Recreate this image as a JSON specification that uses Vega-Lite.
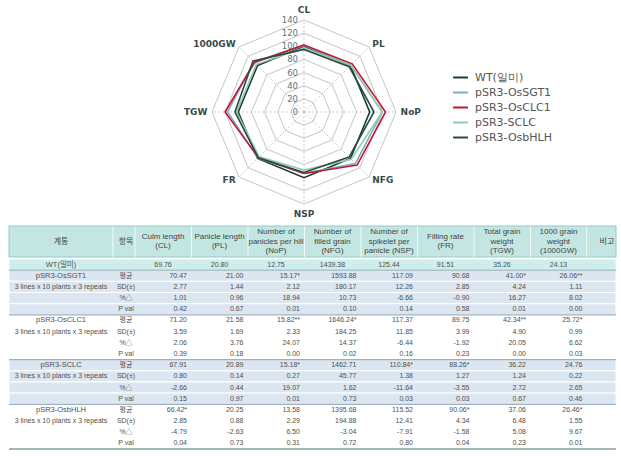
{
  "$schema": "https://vega.github.io/schema/vega-lite/v6.json",
  "padding": {"left": 8, "right": 6, "top": 0, "bottom": 0},
  "spacing": 0,
  "background": "white",
  "config": {"view": {"stroke": null}, "text": {"font": "DejaVu Sans"}},
  "datasets": {
    "traits": [
      {"t": "CL", "idx": 0, "label": "Culm length\n(CL)"},
      {"t": "PL", "idx": 1, "label": "Panicle length\n(PL)"},
      {"t": "NoP", "idx": 2, "label": "Number of\npanicles per hill\n(NoP)"},
      {"t": "NFG", "idx": 3, "label": "Number of\nfilled grain\n(NFG)"},
      {"t": "NSP", "idx": 4, "label": "Number of\nspikelet per\npanicle (NSP)"},
      {"t": "FR", "idx": 5, "label": "Filling rate\n(FR)"},
      {"t": "TGW", "idx": 6, "label": "Total grain\nweight\n(TGW)"},
      {"t": "1000GW", "idx": 7, "label": "1000 grain\nweight\n(1000GW)"}
    ],
    "levels": [
      {"level": 0, "spoke": [0, 1, 2, 3, 4, 5, 6, 7]},
      {"level": 20, "spoke": [0, 1, 2, 3, 4, 5, 6, 7]},
      {"level": 40, "spoke": [0, 1, 2, 3, 4, 5, 6, 7]},
      {"level": 60, "spoke": [0, 1, 2, 3, 4, 5, 6, 7]},
      {"level": 80, "spoke": [0, 1, 2, 3, 4, 5, 6, 7]},
      {"level": 100, "spoke": [0, 1, 2, 3, 4, 5, 6, 7]},
      {"level": 120, "spoke": [0, 1, 2, 3, 4, 5, 6, 7]},
      {"level": 140, "spoke": [0, 1, 2, 3, 4, 5, 6, 7]}
    ],
    "lines": [
      {"l": "pSR3-OsSGT1", "desc": "3 lines x 10 plants x 3 repeats"},
      {"l": "pSR3-OsCLC1", "desc": "3 lines x 10 plants x 3 repeats"},
      {"l": "pSR3-SCLC", "desc": "3 lines x 10 plants x 3 repeats"},
      {"l": "pSR3-OsbHLH", "desc": "3 lines x 10 plants x 3 repeats"}
    ],
    "stats": [
      {"stat": "m", "item": "평균"},
      {"stat": "sd", "item": "SD(±)"},
      {"stat": "pct", "item": "%△"},
      {"stat": "p", "item": "P val"}
    ],
    "cells": [
      {"l": "WT(일미)", "t": "CL", "m": 69.76},
      {"l": "WT(일미)", "t": "PL", "m": 20.80},
      {"l": "WT(일미)", "t": "NoP", "m": 12.75},
      {"l": "WT(일미)", "t": "NFG", "m": 1439.38},
      {"l": "WT(일미)", "t": "NSP", "m": 125.44},
      {"l": "WT(일미)", "t": "FR", "m": 91.51},
      {"l": "WT(일미)", "t": "TGW", "m": 35.26},
      {"l": "WT(일미)", "t": "1000GW", "m": 24.13},
      {"l": "pSR3-OsSGT1", "t": "CL", "m": 70.47, "sd": 2.77, "pct": 1.01, "p": 0.42},
      {"l": "pSR3-OsSGT1", "t": "PL", "m": 21.00, "sd": 1.44, "pct": 0.96, "p": 0.67},
      {"l": "pSR3-OsSGT1", "t": "NoP", "m": 15.17, "sig": "*", "sd": 2.12, "pct": 18.94, "p": 0.01},
      {"l": "pSR3-OsSGT1", "t": "NFG", "m": 1593.88, "sd": 180.17, "pct": 10.73, "p": 0.10},
      {"l": "pSR3-OsSGT1", "t": "NSP", "m": 117.09, "sd": 12.26, "pct": -6.66, "p": 0.14},
      {"l": "pSR3-OsSGT1", "t": "FR", "m": 90.68, "sd": 2.85, "pct": -0.90, "p": 0.58},
      {"l": "pSR3-OsSGT1", "t": "TGW", "m": 41.00, "sig": "*", "sd": 4.24, "pct": 16.27, "p": 0.01},
      {"l": "pSR3-OsSGT1", "t": "1000GW", "m": 26.06, "sig": "**", "sd": 1.11, "pct": 8.02, "p": 0.00},
      {"l": "pSR3-OsCLC1", "t": "CL", "m": 71.20, "sd": 3.59, "pct": 2.06, "p": 0.39},
      {"l": "pSR3-OsCLC1", "t": "PL", "m": 21.58, "sd": 1.69, "pct": 3.76, "p": 0.18},
      {"l": "pSR3-OsCLC1", "t": "NoP", "m": 15.82, "sig": "**", "sd": 2.33, "pct": 24.07, "p": 0.00},
      {"l": "pSR3-OsCLC1", "t": "NFG", "m": 1646.24, "sig": "*", "sd": 184.25, "pct": 14.37, "p": 0.02},
      {"l": "pSR3-OsCLC1", "t": "NSP", "m": 117.37, "sd": 11.85, "pct": -6.44, "p": 0.16},
      {"l": "pSR3-OsCLC1", "t": "FR", "m": 89.75, "sd": 3.99, "pct": -1.92, "p": 0.23},
      {"l": "pSR3-OsCLC1", "t": "TGW", "m": 42.34, "sig": "**", "sd": 4.90, "pct": 20.05, "p": 0.00},
      {"l": "pSR3-OsCLC1", "t": "1000GW", "m": 25.72, "sig": "*", "sd": 0.99, "pct": 6.62, "p": 0.03},
      {"l": "pSR3-SCLC", "t": "CL", "m": 67.91, "sd": 0.80, "pct": -2.66, "p": 0.15},
      {"l": "pSR3-SCLC", "t": "PL", "m": 20.89, "sd": 0.14, "pct": 0.44, "p": 0.97},
      {"l": "pSR3-SCLC", "t": "NoP", "m": 15.18, "sig": "*", "sd": 0.27, "pct": 19.07, "p": 0.01},
      {"l": "pSR3-SCLC", "t": "NFG", "m": 1462.71, "sd": 45.77, "pct": 1.62, "p": 0.73},
      {"l": "pSR3-SCLC", "t": "NSP", "m": 110.84, "sig": "*", "sd": 1.38, "pct": -11.64, "p": 0.03},
      {"l": "pSR3-SCLC", "t": "FR", "m": 88.26, "sig": "*", "sd": 1.27, "pct": -3.55, "p": 0.03},
      {"l": "pSR3-SCLC", "t": "TGW", "m": 36.22, "sd": 1.24, "pct": 2.72, "p": 0.67},
      {"l": "pSR3-SCLC", "t": "1000GW", "m": 24.76, "sd": 0.22, "pct": 2.65, "p": 0.46},
      {"l": "pSR3-OsbHLH", "t": "CL", "m": 66.42, "sig": "*", "sd": 2.85, "pct": -4.79, "p": 0.04},
      {"l": "pSR3-OsbHLH", "t": "PL", "m": 20.25, "sd": 0.88, "pct": -2.63, "p": 0.73},
      {"l": "pSR3-OsbHLH", "t": "NoP", "m": 13.58, "sd": 2.29, "pct": 6.50, "p": 0.31},
      {"l": "pSR3-OsbHLH", "t": "NFG", "m": 1395.68, "sd": 194.88, "pct": -3.04, "p": 0.72},
      {"l": "pSR3-OsbHLH", "t": "NSP", "m": 115.52, "sd": 12.41, "pct": -7.91, "p": 0.80},
      {"l": "pSR3-OsbHLH", "t": "FR", "m": 90.06, "sig": "*", "sd": 4.34, "pct": -1.58, "p": 0.04},
      {"l": "pSR3-OsbHLH", "t": "TGW", "m": 37.06, "sd": 6.48, "pct": 5.08, "p": 0.23},
      {"l": "pSR3-OsbHLH", "t": "1000GW", "m": 26.46, "sig": "*", "sd": 1.55, "pct": 9.67, "p": 0.01}
    ]
  },
  "vconcat": [
    {
      "width": 607,
      "height": 225,
      "layer": [
        {
          "data": {"name": "levels"},
          "transform": [
            {"filter": "datum.level > 0"},
            {"flatten": ["spoke"]},
            {"calculate": "datum.level * sin(datum.spoke * PI / 4)", "as": "gx"},
            {"calculate": "datum.level * cos(datum.spoke * PI / 4)", "as": "gy"}
          ],
          "mark": {"type": "line", "interpolate": "linear-closed", "stroke": "#c4c4c4", "strokeWidth": 1},
          "encoding": {
            "x": {"field": "gx", "type": "quantitative", "scale": {"domain": [-448.91, 474.78], "nice": false, "zero": false}, "axis": null},
            "y": {"field": "gy", "type": "quantitative", "scale": {"domain": [-171.96, 170.43], "nice": false, "zero": false}, "axis": null},
            "detail": {"field": "level", "type": "nominal"},
            "order": {"field": "spoke", "type": "quantitative"}
          }
        },
        {
          "data": {"name": "traits"},
          "transform": [
            {"calculate": "0", "as": "ox"},
            {"calculate": "140 * sin(datum.idx * PI / 4)", "as": "sx"},
            {"calculate": "140 * cos(datum.idx * PI / 4)", "as": "sy"}
          ],
          "mark": {"type": "rule", "stroke": "#c8c8c8", "strokeWidth": 1, "strokeDash": [2, 2]},
          "encoding": {
            "x": {"field": "ox", "type": "quantitative", "scale": {"domain": [-448.91, 474.78], "nice": false, "zero": false}, "axis": null},
            "y": {"field": "ox", "type": "quantitative", "scale": {"domain": [-171.96, 170.43], "nice": false, "zero": false}, "axis": null},
            "x2": {"field": "sx"},
            "y2": {"field": "sy"}
          }
        },
        {
          "data": {"name": "levels"},
          "transform": [{"calculate": "0", "as": "ox"}],
          "mark": {"type": "text", "align": "right", "baseline": "middle", "dx": -6, "fontSize": 8.5, "fill": "#5a7878"},
          "encoding": {
            "x": {"field": "ox", "type": "quantitative", "scale": {"domain": [-448.91, 474.78], "nice": false, "zero": false}, "axis": null},
            "y": {"field": "level", "type": "quantitative", "scale": {"domain": [-171.96, 170.43], "nice": false, "zero": false}, "axis": null},
            "text": {"field": "level", "type": "quantitative"}
          }
        },
        {
          "data": {"name": "traits"},
          "transform": [
            {"filter": "datum.idx >= 1 && datum.idx <= 3"},
            {"calculate": "147 * sin(datum.idx * PI / 4)", "as": "ax"},
            {"calculate": "147 * cos(datum.idx * PI / 4)", "as": "ay"}
          ],
          "mark": {"type": "text", "align": "left", "baseline": "middle", "fontSize": 9, "fontWeight": "bold", "fill": "#3b4a4a"},
          "encoding": {
            "x": {"field": "ax", "type": "quantitative", "scale": {"domain": [-448.91, 474.78], "nice": false, "zero": false}, "axis": null},
            "y": {"field": "ay", "type": "quantitative", "scale": {"domain": [-171.96, 170.43], "nice": false, "zero": false}, "axis": null},
            "text": {"field": "t"}
          }
        },
        {
          "data": {"name": "traits"},
          "transform": [
            {"filter": "datum.idx >= 5"},
            {"calculate": "147 * sin(datum.idx * PI / 4)", "as": "ax"},
            {"calculate": "147 * cos(datum.idx * PI / 4)", "as": "ay"}
          ],
          "mark": {"type": "text", "align": "right", "baseline": "middle", "fontSize": 9, "fontWeight": "bold", "fill": "#3b4a4a"},
          "encoding": {
            "x": {"field": "ax", "type": "quantitative", "scale": {"domain": [-448.91, 474.78], "nice": false, "zero": false}, "axis": null},
            "y": {"field": "ay", "type": "quantitative", "scale": {"domain": [-171.96, 170.43], "nice": false, "zero": false}, "axis": null},
            "text": {"field": "t"}
          }
        },
        {
          "data": {"name": "traits"},
          "transform": [
            {"filter": "datum.idx == 0 || datum.idx == 4"},
            {"calculate": "155 * sin(datum.idx * PI / 4)", "as": "ax"},
            {"calculate": "155 * cos(datum.idx * PI / 4)", "as": "ay"}
          ],
          "mark": {"type": "text", "align": "center", "baseline": "middle", "fontSize": 9, "fontWeight": "bold", "fill": "#3b4a4a"},
          "encoding": {
            "x": {"field": "ax", "type": "quantitative", "scale": {"domain": [-448.91, 474.78], "nice": false, "zero": false}, "axis": null},
            "y": {"field": "ay", "type": "quantitative", "scale": {"domain": [-171.96, 170.43], "nice": false, "zero": false}, "axis": null},
            "text": {"field": "t"}
          }
        },
        {
          "data": {"name": "cells"},
          "transform": [
            {"calculate": "datum.l == 'WT(일미)' ? datum.m : null", "as": "wtv"},
            {"joinaggregate": [{"op": "max", "field": "wtv", "as": "wt"}], "groupby": ["t"]},
            {"lookup": "t", "from": {"data": {"name": "traits"}, "key": "t", "fields": ["idx"]}},
            {"calculate": "100 * datum.m / datum.wt", "as": "rel"},
            {"calculate": "datum.rel * sin(datum.idx * PI / 4)", "as": "px"},
            {"calculate": "datum.rel * cos(datum.idx * PI / 4)", "as": "py"}
          ],
          "mark": {"type": "line", "interpolate": "linear-closed", "strokeWidth": 1.6},
          "encoding": {
            "x": {"field": "px", "type": "quantitative", "scale": {"domain": [-448.91, 474.78], "nice": false, "zero": false}, "axis": null},
            "y": {"field": "py", "type": "quantitative", "scale": {"domain": [-171.96, 170.43], "nice": false, "zero": false}, "axis": null},
            "order": {"field": "idx", "type": "quantitative"},
            "color": {
              "field": "l",
              "type": "nominal",
              "scale": {
                "domain": ["WT(일미)", "pSR3-OsSGT1", "pSR3-OsCLC1", "pSR3-SCLC", "pSR3-OsbHLH"],
                "range": ["#1b3d2f", "#7ab0c2", "#c4172c", "#93cbb4", "#2b4b42"]
              },
              "legend": {
                "title": null,
                "orient": "none",
                "legendX": 443,
                "legendY": 69,
                "symbolType": "stroke",
                "symbolSize": 220,
                "symbolStrokeWidth": 2,
                "labelFont": "DejaVu Sans",
                "labelFontSize": 11,
                "labelColor": "#555555",
                "labelOffset": 6,
                "rowPadding": 1
              }
            }
          }
        }
      ]
    },
    {
      "width": 607,
      "height": 31,
      "layer": [
        {
          "data": {"values": [{}]},
          "mark": {"type": "rect", "fill": "#c3e6e2", "stroke": "#8fcdc5", "strokeWidth": 1},
          "encoding": {}
        },
        {
          "data": {"name": "traits"},
          "mark": {"type": "rule", "stroke": "white", "strokeWidth": 1, "opacity": 0.8, "xOffset": -28},
          "encoding": {
            "x": {"field": "idx", "type": "quantitative", "scale": {"domain": [-2.7257, 8.0177], "nice": false, "zero": false}, "axis": null}
          }
        },
        {
          "data": {"values": [{}]},
          "mark": {"type": "rule", "stroke": "white", "strokeWidth": 1, "opacity": 0.8},
          "encoding": {
            "x": {"datum": -0.885, "type": "quantitative", "scale": {"domain": [-2.7257, 8.0177], "nice": false, "zero": false}, "axis": null}
          }
        },
        {
          "data": {"values": [{}]},
          "mark": {"type": "rule", "stroke": "white", "strokeWidth": 1, "opacity": 0.8},
          "encoding": {
            "x": {"datum": 7.5, "type": "quantitative", "scale": {"domain": [-2.7257, 8.0177], "nice": false, "zero": false}, "axis": null}
          }
        },
        {
          "data": {"name": "traits"},
          "transform": [{"filter": "length(split(datum.label, '\\n')) == 3"}],
          "mark": {"type": "text", "align": "center", "baseline": "middle", "dy": -9.5, "fontSize": 8, "lineHeight": 9.5, "lineBreak": "\n", "fill": "#444444", "font": "Liberation Sans"},
          "encoding": {
            "x": {"field": "idx", "type": "quantitative", "scale": {"domain": [-2.7257, 8.0177], "nice": false, "zero": false}, "axis": null},
            "text": {"field": "label"}
          }
        },
        {
          "data": {"name": "traits"},
          "transform": [{"filter": "length(split(datum.label, '\\n')) == 2"}],
          "mark": {"type": "text", "align": "center", "baseline": "middle", "dy": -4.75, "fontSize": 8, "lineHeight": 9.5, "lineBreak": "\n", "fill": "#444444", "font": "Liberation Sans"},
          "encoding": {
            "x": {"field": "idx", "type": "quantitative", "scale": {"domain": [-2.7257, 8.0177], "nice": false, "zero": false}, "axis": null},
            "text": {"field": "label"}
          }
        },
        {
          "data": {"values": [{}]},
          "mark": {"type": "text", "align": "center", "baseline": "middle", "fontSize": 8, "fill": "#444444", "font": "Noto Sans CJK KR"},
          "encoding": {
            "x": {"datum": -1.805, "type": "quantitative", "scale": {"domain": [-2.7257, 8.0177], "nice": false, "zero": false}, "axis": null},
            "text": {"value": "계통"}
          }
        },
        {
          "data": {"values": [{}]},
          "mark": {"type": "text", "align": "center", "baseline": "middle", "fontSize": 8, "fill": "#444444", "font": "Noto Sans CJK KR"},
          "encoding": {
            "x": {"datum": -0.655, "type": "quantitative", "scale": {"domain": [-2.7257, 8.0177], "nice": false, "zero": false}, "axis": null},
            "text": {"value": "항목"}
          }
        },
        {
          "data": {"values": [{}]},
          "mark": {"type": "text", "align": "center", "baseline": "middle", "fontSize": 8, "fill": "#444444", "font": "Noto Sans CJK KR"},
          "encoding": {
            "x": {"datum": 7.858, "type": "quantitative", "scale": {"domain": [-2.7257, 8.0177], "nice": false, "zero": false}, "axis": null},
            "text": {"value": "비고"}
          }
        }
      ]
    },
    {
      "width": 607,
      "height": 190,
      "data": {"name": "cells"},
      "transform": [
        {"fold": ["m", "sd", "pct", "p"], "as": ["stat", "v"]},
        {"filter": "isValid(datum.v)"},
        {"lookup": "stat", "from": {"data": {"name": "stats"}, "key": "stat", "fields": ["item"]}},
        {"lookup": "l", "from": {"data": {"name": "lines"}, "key": "l", "fields": ["desc"]}},
        {"lookup": "t", "from": {"data": {"name": "traits"}, "key": "t", "fields": ["idx"]}},
        {"calculate": "datum.l == 'WT(일미)' ? datum.l : datum.l + '|' + datum.stat", "as": "rowkey"},
        {"calculate": "replace(format(datum.v, '.2f'), '\u2212', '-') + (datum.stat == 'm' && datum.sig ? datum.sig : '')", "as": "txt"}
      ],
      "layer": [
        {
          "transform": [{"filter": "datum.t == 'CL'"}],
          "mark": {"type": "rect", "stroke": "white", "strokeWidth": 1},
          "encoding": {
            "y": {
              "field": "rowkey", "type": "nominal",
              "scale": {"type": "band", "paddingInner": 0, "paddingOuter": 0, "domain": ["WT(일미)", "pSR3-OsSGT1|m", "pSR3-OsSGT1|sd", "pSR3-OsSGT1|pct", "pSR3-OsSGT1|p", "pSR3-OsCLC1|m", "pSR3-OsCLC1|sd", "pSR3-OsCLC1|pct", "pSR3-OsCLC1|p", "pSR3-SCLC|m", "pSR3-SCLC|sd", "pSR3-SCLC|pct", "pSR3-SCLC|p", "pSR3-OsbHLH|m", "pSR3-OsbHLH|sd", "pSR3-OsbHLH|pct", "pSR3-OsbHLH|p"]},
              "axis": null
            },
            "color": {
              "field": "l",
              "type": "nominal",
              "scale": {
                "domain": ["WT(일미)", "pSR3-OsSGT1", "pSR3-OsCLC1", "pSR3-SCLC", "pSR3-OsbHLH"],
                "range": ["#cdeeea", "#dce6f1", "#ffffff", "#dce6f1", "#ffffff"]
              },
              "legend": null
            }
          }
        },
        {
          "transform": [{"filter": "datum.t == 'CL' && datum.stat == 'm' && datum.l != 'WT(일미)'"}],
          "mark": {"type": "rule", "stroke": "#9cb0bf", "strokeWidth": 1.2},
          "encoding": {
            "y": {"field": "rowkey", "type": "nominal", "bandPosition": 0, "axis": null}
          }
        },
        {
          "transform": [{"filter": "datum.t == 'CL' && datum.stat == 'p' && datum.l == 'pSR3-OsbHLH'"}],
          "mark": {"type": "rule", "stroke": "#7f9f9f", "strokeWidth": 1.5},
          "encoding": {
            "y": {"field": "rowkey", "type": "nominal", "bandPosition": 1, "axis": null}
          }
        },
        {
          "transform": [{"filter": "datum.t == 'CL' && datum.stat == 'm'"}],
          "mark": {"type": "text", "align": "center", "baseline": "middle", "fontSize": 7.5, "fill": "#505050", "font": "Liberation Sans, Noto Sans CJK KR"},
          "encoding": {
            "y": {"field": "rowkey", "type": "nominal", "axis": null},
            "x": {"datum": -1.805, "type": "quantitative", "scale": {"domain": [-2.7257, 8.0177], "nice": false, "zero": false}, "axis": null},
            "text": {"field": "l"}
          }
        },
        {
          "transform": [{"filter": "datum.t == 'CL' && datum.stat == 'sd'"}],
          "mark": {"type": "text", "align": "center", "baseline": "middle", "fontSize": 7, "fill": "#505050", "font": "Liberation Sans"},
          "encoding": {
            "y": {"field": "rowkey", "type": "nominal", "axis": null},
            "x": {"datum": -1.805, "type": "quantitative", "scale": {"domain": [-2.7257, 8.0177], "nice": false, "zero": false}, "axis": null},
            "text": {"field": "desc"}
          }
        },
        {
          "transform": [{"filter": "datum.t == 'CL' && datum.l != 'WT(일미)'"}],
          "mark": {"type": "text", "align": "center", "baseline": "middle", "fontSize": 7, "fill": "#505050", "font": "Liberation Sans, Noto Sans CJK KR"},
          "encoding": {
            "y": {"field": "rowkey", "type": "nominal", "axis": null},
            "x": {"datum": -0.655, "type": "quantitative", "scale": {"domain": [-2.7257, 8.0177], "nice": false, "zero": false}, "axis": null},
            "text": {"field": "item"}
          }
        },
        {
          "transform": [{"filter": "datum.l == 'WT(일미)'"}],
          "mark": {"type": "text", "align": "center", "baseline": "middle", "fontSize": 7, "fill": "#505050", "font": "Liberation Sans"},
          "encoding": {
            "y": {"field": "rowkey", "type": "nominal", "axis": null},
            "x": {"field": "idx", "type": "quantitative", "scale": {"domain": [-2.7257, 8.0177], "nice": false, "zero": false}, "axis": null},
            "text": {"field": "txt"}
          }
        },
        {
          "transform": [{"filter": "datum.l != 'WT(일미)'"}],
          "mark": {"type": "text", "align": "right", "baseline": "middle", "dx": 24, "fontSize": 7, "fill": "#505050", "font": "Liberation Sans"},
          "encoding": {
            "y": {"field": "rowkey", "type": "nominal", "axis": null},
            "x": {"field": "idx", "type": "quantitative", "scale": {"domain": [-2.7257, 8.0177], "nice": false, "zero": false}, "axis": null},
            "text": {"field": "txt"}
          }
        }
      ]
    }
  ],
  "resolve": {"scale": {"x": "independent", "y": "independent", "color": "independent"}}
}
